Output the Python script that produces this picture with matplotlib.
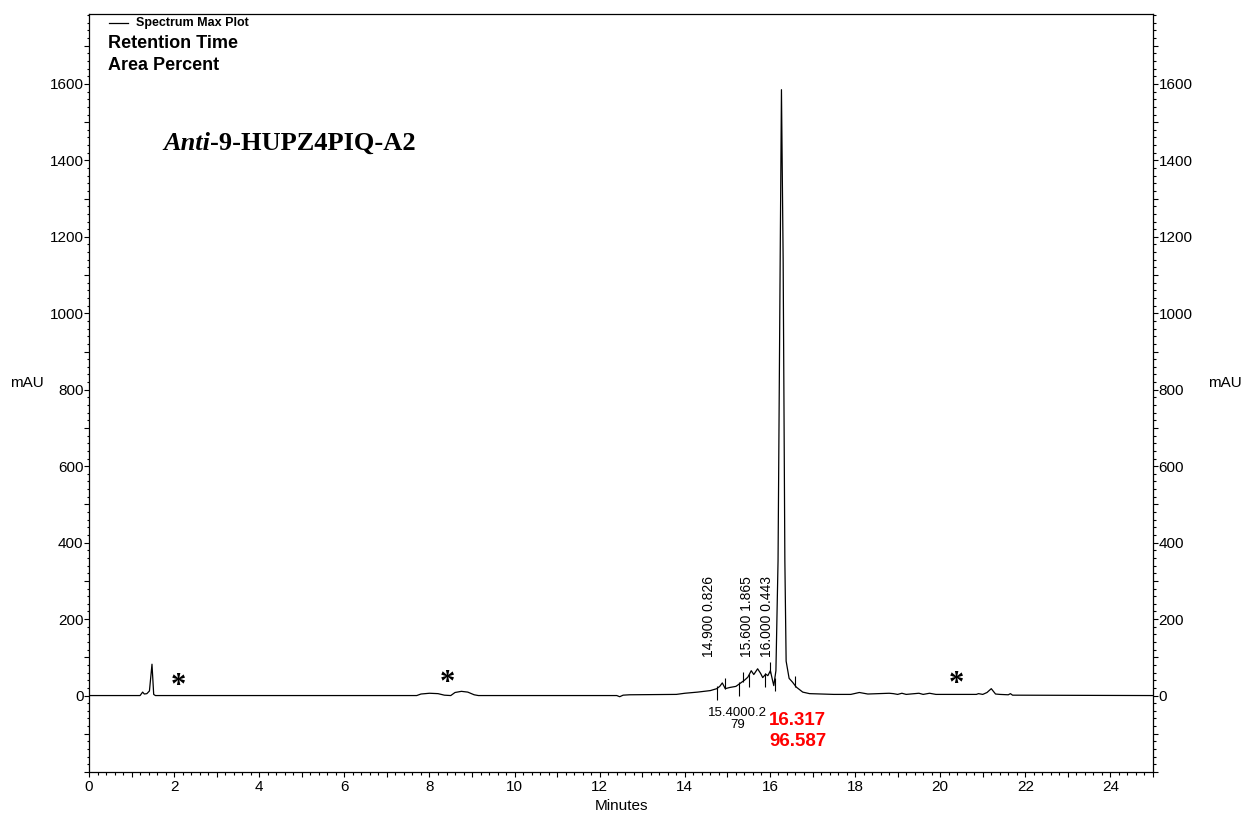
import numpy as np
import matplotlib
matplotlib.use('Agg')
import matplotlib.pyplot as plt
from matplotlib.ticker import MultipleLocator, FuncFormatter

plt.rcParams['font.family'] = ['Liberation Sans', 'DejaVu Sans']

# chromatogram trace (minutes, mAU)
time_min = [0.00, 1.20, 1.26, 1.30, 1.36, 1.42, 1.48, 1.52, 1.56,
            7.70, 7.80, 8.00, 8.20, 8.35, 8.50, 8.60, 8.75, 8.90, 9.05, 9.15,
            12.40, 12.47, 12.55, 12.70, 13.80, 14.00, 14.30, 14.60, 14.75,
            14.82, 14.88, 14.95, 15.05, 15.20, 15.30, 15.40, 15.48, 15.56,
            15.62, 15.71, 15.78, 15.83, 15.90, 15.95, 16.01, 16.06, 16.09,
            16.14, 16.19, 16.24, 16.27, 16.31, 16.35, 16.38, 16.45, 16.53,
            16.62, 16.77, 16.93, 17.50, 17.90, 18.10, 18.30, 18.80, 18.90,
            19.00, 19.10, 19.20, 19.50, 19.60, 19.75, 19.90, 20.85, 20.90,
            21.00, 21.10, 21.20, 21.30, 21.40, 21.60, 21.65, 21.70, 25.00]
signal_mau = [0, 0, 9, 4, 5, 12, 82, 3, 0,
              0, 4, 6, 5, 1, 0, 8, 11, 9, 2, 0,
              0, -3, 1, 2, 3, 6, 9, 13, 18,
              24, 33, 18, 21, 24, 32, 40, 48, 65,
              55, 70, 58, 47, 56, 52, 65, 40, 26,
              65, 353, 1139, 1585, 1139, 353, 90, 45, 35,
              22, 9, 5, 3, 3, 8, 4, 6, 5,
              3, 6, 3, 6, 3, 6, 3, 3, 5,
              3, 8, 18, 4, 3, 2, 5, 1, 0]

# integration markers: time, direction (+1 up / -1 down)
marker_times = [14.76, 14.94, 15.27, 15.37, 15.50, 15.88, 16.00, 16.11, 16.60]
marker_dirs = [-1, 1, -1, 1, -1, -1, 1, -1, 1]

# vertical peak labels
peak_labels = ['14.900 0.826', '15.600 1.865', '16.000 0.443']
peak_label_x = [14.56, 15.45, 15.92]

star_x = [2.09, 8.41, 20.38]
star_y = [3, 13, 8]

fig = plt.figure(figsize=(12.44, 8.22), dpi=100)
ax = fig.add_axes([89/1244, 1 - 772/822, (1153-89)/1244, (772-14)/822])

ax.plot(time_min, signal_mau, color='black', lw=0.9)

for t, d in zip(marker_times, marker_dirs):
    v = np.interp(t, time_min, signal_mau)
    if d > 0:
        ax.vlines(t, v - 3, v + 25, color='black', lw=0.8)
    else:
        ax.vlines(t, v + 5, v - 30, color='black', lw=0.8)

for lab, x in zip(peak_labels, peak_label_x):
    ax.text(x, 100, lab, rotation=90, ha='center', va='bottom', fontsize=10)

ax.text(15.24, -30, '15.4000.2\n79', ha='center', va='top', fontsize=9.5,
        linespacing=1.0)
ax.text(16.65, -43, '16.317\n96.587', ha='center', va='top', fontsize=13.5,
        color='red', fontweight='bold', linespacing=1.3)

for x, y in zip(star_x, star_y):
    ax.text(x, y, '*', ha='center', va='baseline', fontsize=22,
            family='Liberation Serif', fontweight='bold')

# sample title: italic "Anti" followed by upright bold part
t1 = ax.text(1.74, 1445, 'Anti', family='Liberation Serif', fontsize=19,
             fontweight='bold', style='italic', ha='left', va='center')
ax.annotate('-9-HUPZ4PIQ-A2', xy=(1, 0), xycoords=t1, ha='left', va='bottom',
            family='Liberation Serif', fontsize=19, fontweight='bold')

ax.set_xlim(0, 25)
ax.set_ylim(-200, 1783)

ax.xaxis.set_major_locator(MultipleLocator(1))
ax.xaxis.set_minor_locator(MultipleLocator(0.2))
ax.xaxis.set_major_formatter(FuncFormatter(
    lambda v, p: f'{v:.0f}' if round(v) % 2 == 0 else ''))
ax.yaxis.set_major_locator(MultipleLocator(100))
ax.yaxis.set_minor_locator(MultipleLocator(20))
ax.yaxis.set_major_formatter(FuncFormatter(
    lambda v, p: f'{v:.0f}' if round(v) % 200 == 0 and 0 <= v <= 1600 else ''))

ax.tick_params(which='both', direction='out', width=0.8, labelsize=11,
               right=True, labelright=True)
ax.tick_params(which='major', length=3.5)
ax.tick_params(which='minor', length=1.8)
ax.tick_params(axis='y', pad=0.5)
ax.tick_params(axis='x', pad=2)
for s in ax.spines.values():
    s.set_linewidth(0.9)

ax.set_xlabel('Minutes', fontsize=11, labelpad=4)
ax.text(-0.058, 0.513, 'mAU', transform=ax.transAxes, ha='center',
        va='center', fontsize=11)
ax.text(1.068, 0.513, 'mAU', transform=ax.transAxes, ha='center',
        va='center', fontsize=11)

# header block
fig.lines.append(plt.Line2D([109/1244, 128/1244], [1 - 23/822, 1 - 23/822],
                            color='black', lw=0.9, transform=fig.transFigure))
fig.text(136/1244, 1 - 23/822, 'Spectrum Max Plot', fontsize=9,
         fontweight='bold', va='center')
fig.text(108/1244, 1 - 44/822, 'Retention Time', fontsize=13,
         fontweight='bold', va='center')
fig.text(108/1244, 1 - 66/822, 'Area Percent', fontsize=13,
         fontweight='bold', va='center')

fig.savefig('out.png', dpi=100)
